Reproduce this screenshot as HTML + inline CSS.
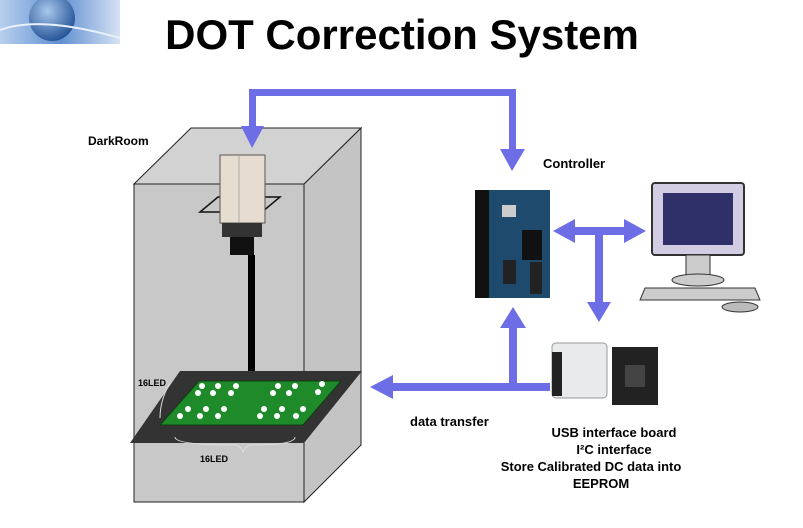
<!DOCTYPE html>
<html><head><meta charset="utf-8"><style>
html,body{margin:0;padding:0;background:#fff;}
svg{display:block;font-family:"Liberation Sans",Arial,sans-serif;}
</style></head><body>
<svg width="803" height="528" viewBox="0 0 803 528">
<defs>
<linearGradient id="lg" x1="0" y1="0" x2="1" y2="0"><stop offset="0" stop-color="#b8d0ee"/><stop offset="0.5" stop-color="#5f8fd0"/><stop offset="1" stop-color="#d6e2f4"/></linearGradient>
<radialGradient id="gl" cx="0.4" cy="0.35" r="0.7"><stop offset="0" stop-color="#a8c8ec"/><stop offset="1" stop-color="#1f4f94"/></radialGradient>
</defs>
<rect x="0" y="0" width="120" height="44" fill="url(#lg)"/>
<circle cx="52" cy="18" r="23" fill="url(#gl)"/>
<path d="M0 30 Q40 15 120 38" stroke="#e8f0fa" stroke-width="2" fill="none"/>
<text x="402" y="49" font-size="42" font-weight="bold" text-anchor="middle" fill="#000">DOT Correction System</text>
<polygon points="304,184 361,128 361,445 304,502" fill="#c4c4c4" stroke="#222" stroke-width="1"/>
<polygon points="134,184 191,128 361,128 304,184" fill="#d2d2d2" stroke="#222" stroke-width="1"/>
<rect x="134" y="184" width="170" height="318" fill="#c8c8c8" stroke="#222" stroke-width="1"/>
<polygon points="218,197 280,197 262,212 200,212" fill="none" stroke="#111" stroke-width="1.5"/>
<rect x="220" y="155" width="45" height="68" fill="#e6dcd0" stroke="#555"/>
<line x1="239" y1="156" x2="239" y2="222" stroke="#aaa"/>
<rect x="222" y="223" width="40" height="14" fill="#333"/>
<rect x="230" y="237" width="24" height="18" fill="#111"/>
<rect x="248" y="255" width="7" height="118" fill="#000"/>
<polygon points="180,371 362,371 304,443 130,443" fill="#333"/>
<polygon points="199,381 341,381 303,425 160,425" fill="#1f8a2a" stroke="#0c4010"/>
<g fill="#fff">
<circle cx="202" cy="386" r="3"/><circle cx="218" cy="386" r="3"/><circle cx="236" cy="386" r="3"/><circle cx="278" cy="386" r="3"/><circle cx="295" cy="386" r="3"/><circle cx="322" cy="384" r="3"/>
<circle cx="198" cy="393" r="3"/><circle cx="213" cy="393" r="3"/><circle cx="231" cy="393" r="3"/><circle cx="273" cy="393" r="3"/><circle cx="289" cy="393" r="3"/><circle cx="318" cy="392" r="3"/>
<circle cx="188" cy="409" r="3"/><circle cx="206" cy="409" r="3"/><circle cx="224" cy="409" r="3"/><circle cx="264" cy="409" r="3"/><circle cx="282" cy="409" r="3"/><circle cx="303" cy="409" r="3"/>
<circle cx="180" cy="416" r="3"/><circle cx="200" cy="416" r="3"/><circle cx="218" cy="416" r="3"/><circle cx="260" cy="416" r="3"/><circle cx="277" cy="416" r="3"/><circle cx="296" cy="416" r="3"/>
</g>
<path d="M170 383 Q160 400 160 418 M175 437 Q175 445 235 445 Q240 445 243 452 Q246 445 252 445 Q295 445 295 437" stroke="#ddd" stroke-width="1" fill="none"/>
<g fill="#6d6de6" stroke="none">
<rect x="249" y="89" width="266" height="7"/>
<rect x="249" y="89" width="7" height="40"/>
<polygon points="241,126 264,126 252,148"/>
<rect x="509" y="89" width="7" height="62"/>
<polygon points="500,149 525,149 512,171"/>
<rect x="565" y="227" width="64" height="8"/>
<polygon points="553,231 575,219 575,243"/>
<polygon points="646,231 624,219 624,243"/>
<rect x="595" y="235" width="8" height="70"/>
<polygon points="587,302 611,302 599,322"/>
<rect x="390" y="383" width="160" height="8"/>
<polygon points="370,387 393,375 393,399"/>
<rect x="509" y="325" width="8" height="62"/>
<polygon points="500,328 526,328 513,307"/>
</g>
<rect x="475" y="190" width="75" height="108" fill="#1e4a6e"/>
<rect x="475" y="190" width="14" height="108" fill="#111"/>
<rect x="502" y="205" width="14" height="12" fill="#ccc"/>
<rect x="522" y="230" width="20" height="30" fill="#111"/>
<rect x="530" y="262" width="12" height="32" fill="#222"/>
<rect x="503" y="260" width="13" height="24" fill="#222"/>
<rect x="652" y="183" width="92" height="72" rx="3" fill="#d2cde3" stroke="#333" stroke-width="2"/>
<rect x="663" y="193" width="70" height="52" fill="#2f2f6a"/>
<rect x="686" y="255" width="24" height="20" fill="#ccc" stroke="#333"/>
<ellipse cx="698" cy="280" rx="26" ry="6" fill="#ccc" stroke="#333"/>
<polygon points="645,288 755,288 760,300 640,300" fill="#ccc" stroke="#333"/>
<ellipse cx="740" cy="307" rx="18" ry="5" fill="#bbb" stroke="#333"/>
<rect x="552" y="343" width="55" height="55" rx="4" fill="#e8eaec" stroke="#999"/>
<rect x="552" y="352" width="10" height="44" fill="#222"/>
<rect x="612" y="347" width="46" height="58" fill="#222"/>
<rect x="625" y="365" width="20" height="22" fill="#444"/>
<g font-weight="bold" font-size="12" fill="#000">
<text x="88" y="145">DarkRoom</text>
<text x="543" y="168" font-size="13">Controller</text>
<text x="410" y="426" font-size="13">data transfer</text>
<text x="138" y="386" font-size="9">16LED</text>
<text x="200" y="462" font-size="9">16LED</text>
<g text-anchor="middle" font-size="13">
<text x="614" y="437">USB interface board</text>
<text x="614" y="454">I²C interface</text>
<text x="591" y="471">Store Calibrated DC data into</text>
<text x="601" y="488">EEPROM</text>
</g>
</g>
</svg>
</body></html>
